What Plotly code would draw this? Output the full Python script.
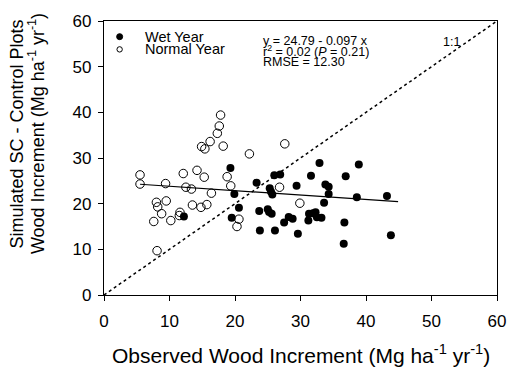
import plotly.graph_objects as go

# ---------------- data ----------------
wet_x = [19.3, 19.9, 20.6, 19.5, 23.3, 25.3, 25.5, 25.7, 26.0, 26.9,
         23.7, 25.0, 25.2, 25.6, 23.8, 26.1, 27.5, 28.2, 28.8, 29.4,
         29.6, 31.6, 31.3, 31.2, 31.9, 32.9, 38.9, 36.9, 33.8, 34.3,
         34.3, 33.6, 38.6, 43.2, 32.3, 32.5, 33.2, 36.7, 36.6, 43.8, 12.2]
wet_y = [27.8, 22.1, 19.1, 16.9, 24.6, 23.4, 22.6, 22.0, 26.2, 26.4,
         18.4, 18.8, 18.2, 17.8, 14.1, 14.1, 15.9, 17.1, 16.7, 23.9,
         13.4, 26.1, 17.8, 16.3, 17.9, 28.9, 28.6, 26.0, 24.2, 23.7,
         22.1, 20.2, 21.4, 21.7, 18.1, 17.0, 16.9, 15.9, 11.2, 13.1, 17.2]

normal_x = [17.8, 17.6, 17.3, 16.2, 14.9, 15.4, 18.2, 22.2, 5.5, 5.5,
            9.4, 12.1, 14.2, 15.3, 12.5, 13.35, 16.4, 18.8, 19.35, 8.0,
            9.5, 8.2, 8.8, 7.6, 10.2, 13.5, 14.8, 15.7, 11.6, 11.5,
            8.1, 20.6, 20.3, 26.8, 29.9, 27.6]
normal_y = [39.4, 37.0, 35.4, 33.6, 32.5, 32.0, 32.6, 30.9, 26.3, 24.3,
            24.4, 26.6, 27.3, 25.8, 23.6, 23.2, 22.3, 25.9, 23.9, 20.3,
            20.6, 19.3, 17.8, 16.1, 16.3, 19.7, 19.2, 19.8, 18.1, 17.4,
            9.7, 16.6, 15.0, 23.6, 20.1, 33.1]

fit_intercept = 24.79
fit_slope = -0.097
fit_x = [5.5, 44.9]
one_to_one = [0, 60]

x_ticks = [0, 10, 20, 30, 40, 50, 60]
y_ticks = [0, 10, 20, 30, 40, 50, 60]

FONT = "Liberation Sans, Arial, sans-serif"

# plot area geometry (pixels)
L, R, T, B = 104, 12, 15, 80
W, H = 518, 375
pw, ph = W - L - R, H - T - B

def px(xp):
    return (xp - L) / pw

def py(yp):
    return (H - B - yp) / ph

fig = go.Figure()

fig.add_trace(go.Scatter(
    x=one_to_one, y=one_to_one, mode="lines",
    line=dict(color="black", width=1.5, dash="dot"),
    showlegend=False, hoverinfo="skip"))

fig.add_trace(go.Scatter(
    x=fit_x, y=[fit_intercept + fit_slope * v for v in fit_x], mode="lines",
    line=dict(color="black", width=1.2),
    showlegend=False, hoverinfo="skip"))

fig.add_trace(go.Scatter(
    x=wet_x, y=wet_y, mode="markers", name="Wet Year",
    marker=dict(symbol="circle", size=8, color="black"),
    showlegend=False))

fig.add_trace(go.Scatter(
    x=normal_x, y=normal_y, mode="markers", name="Normal Year",
    marker=dict(symbol="circle-open", size=8.5, color="black",
                line=dict(width=1, color="black")),
    showlegend=False))

axis_common = dict(
    range=[0, 60], ticks="outside", ticklen=5,
    tickwidth=1, tickcolor="black", showline=True, linecolor="black",
    linewidth=1.2, mirror=True, showgrid=False, zeroline=False,
    tickfont=dict(family=FONT, size=17, color="black"),
)

fig.update_xaxes(**axis_common, tickvals=x_ticks, ticklabelstandoff=5)
fig.update_yaxes(**axis_common, tickvals=y_ticks, ticklabelstandoff=3)

ann = []
# x-axis title
ann.append(dict(xref="paper", yref="paper", x=px(306), y=py(355),
                text="Observed Wood Increment (Mg ha<sup>-1</sup> yr<sup>-1</sup>)",
                showarrow=False, xanchor="center", yanchor="middle",
                font=dict(family=FONT, size=21, color="black")))
# y-axis title (two lines)
ann.append(dict(xref="paper", yref="paper", x=px(15), y=py(130),
                text="Simulated SC - Control Plots", textangle=-90,
                showarrow=False, xanchor="center", yanchor="middle",
                font=dict(family=FONT, size=18, color="black")))
ann.append(dict(xref="paper", yref="paper", x=px(35), y=py(130),
                text="Wood Increment (Mg ha<sup>-1</sup> yr<sup>-1</sup>)", textangle=-90,
                showarrow=False, xanchor="center", yanchor="middle",
                font=dict(family=FONT, size=18, color="black")))
# legend texts
ann.append(dict(xref="paper", yref="paper", x=px(144), y=py(31),
                text="Wet Year", showarrow=False, xanchor="left", yanchor="middle",
                font=dict(family=FONT, size=14.5, color="black")))
ann.append(dict(xref="paper", yref="paper", x=px(144), y=py(44),
                text="Normal Year", showarrow=False, xanchor="left", yanchor="middle",
                font=dict(family=FONT, size=14.5, color="black")))
# statistics text
for txt, yy in [("y = 24.79 - 0.097 x", 35.5),
                ("r<sup>2</sup> = 0.02 (<i>P</i> = 0.21)", 46),
                ("RMSE = 12.30", 56.5)]:
    ann.append(dict(xref="paper", yref="paper", x=px(266), y=py(yy),
                    text=txt, showarrow=False, xanchor="left", yanchor="middle",
                    borderpad=0,
                    font=dict(family=FONT, size=12.5, color="black")))
ann.append(dict(xref="x", yref="y", x=53.0, y=55.5, text="1:1", showarrow=False,
                xanchor="center", yanchor="middle",
                font=dict(family=FONT, size=12.5, color="black")))

shapes = [
    dict(type="circle", xref="paper", yref="paper", xsizemode="pixel", ysizemode="pixel",
         xanchor=px(120), yanchor=py(31), x0=-3, x1=3, y0=-3, y1=3,
         fillcolor="black", line=dict(color="black", width=1)),
    dict(type="circle", xref="paper", yref="paper", xsizemode="pixel", ysizemode="pixel",
         xanchor=px(120), yanchor=py(44), x0=-2.7, x1=2.7, y0=-2.7, y1=2.7,
         fillcolor="rgba(0,0,0,0)", line=dict(color="black", width=1)),
]

fig.update_layout(
    width=W, height=H,
    margin=dict(l=L, r=R, t=T, b=B),
    paper_bgcolor="white", plot_bgcolor="white",
    annotations=ann, shapes=shapes,
    font=dict(family=FONT, color="black"),
    showlegend=False,
)

fig.write_html("out.html")
